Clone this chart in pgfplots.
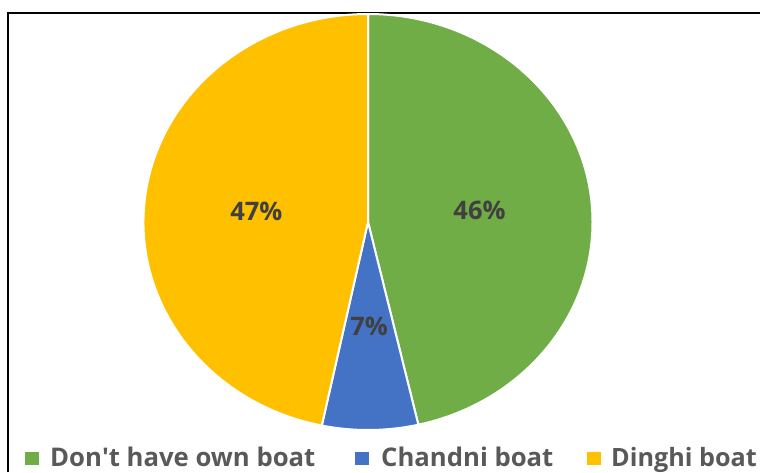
\documentclass[border=0pt]{standalone}
\usepackage{fontspec}
\setmainfont{Open Sans}
\usepackage{pgfplots}
\pgfplotsset{compat=1.18}
\definecolor{pgreen}{HTML}{70AD47}
\definecolor{pblue}{HTML}{4472C4}
\definecolor{pyellow}{HTML}{FFC000}
\definecolor{lblgray}{HTML}{404040}
\definecolor{leggray}{HTML}{595959}
% slice values (percent)
\def\vA{46.4}% Don't have own boat
\def\vB{6.9}%  Chandni boat
\def\vC{46.7}% Dinghi boat
\pgfmathsetmacro{\aS}{90}
\pgfmathsetmacro{\aA}{90-3.6*\vA}
\pgfmathsetmacro{\aB}{\aA-3.6*\vB}
\pgfmathsetmacro{\aC}{\aB-3.6*\vC}
\pgfmathsetmacro{\mA}{(\aS+\aA)/2}
\pgfmathsetmacro{\mB}{(\aA+\aB)/2}
\pgfmathsetmacro{\mC}{(\aB+\aC)/2}
\begin{document}
\begin{tikzpicture}
\begin{axis}[
  scale only axis, width=760pt, height=472pt,
  xmin=0, xmax=760, ymin=0, ymax=472,
  hide axis, clip=false,
  /pgf/number format/assume math mode=true,
]
\addplot[draw=none] coordinates {(0,0) (760,472)};
% frame
\draw[black, line width=1.4pt] (axis cs:8,0) -- (axis cs:8,459) -- (axis cs:770,459);
% slices
\filldraw[fill=pgreen, draw=white, line width=2pt, line join=round]
  (axis cs:368,250) -- ++(\aS:224.5pt and 208pt) arc[start angle=\aS, end angle=\aA, x radius=224.5pt, y radius=208pt] -- cycle;
\filldraw[fill=pblue, draw=white, line width=2pt, line join=round]
  (axis cs:368,250) -- ++(\aA:224.5pt and 208pt) arc[start angle=\aA, end angle=\aB, x radius=224.5pt, y radius=208pt] -- cycle;
\filldraw[fill=pyellow, draw=white, line width=2pt, line join=round]
  (axis cs:368,250) -- ++(\aB:224.5pt and 208pt) arc[start angle=\aB, end angle=\aC, x radius=224.5pt, y radius=208pt] -- cycle;
% data labels
\path (axis cs:368,250) -- ++(\mA:112.25pt and 104pt) node[text=lblgray, font=\fontsize{25.5}{28}\selectfont\bfseries] {\pgfmathprintnumber[fixed,precision=0,assume math mode=true]{\vA}\%};
\path (axis cs:368,250) -- ++(\mB:112.25pt and 104pt) node[text=lblgray, font=\fontsize{25.5}{28}\selectfont\bfseries] {\pgfmathprintnumber[fixed,precision=0,assume math mode=true]{\vB}\%};
\path (axis cs:368,250) -- ++(\mC:112.25pt and 104pt) node[text=lblgray, font=\fontsize{25.5}{28}\selectfont\bfseries] {\pgfmathprintnumber[fixed,precision=0,assume math mode=true]{\vC}\%};
% legend
\fill[pgreen] (axis cs:25,7) rectangle (axis cs:39,20);
\node[anchor=base west, inner sep=0pt, text=leggray, font=\fontsize{25.7}{29}\selectfont\bfseries] at (axis cs:50,6) {Don\textquotesingle t have own boat};
\fill[pblue] (axis cs:355,7) rectangle (axis cs:369,20);
\node[anchor=base west, inner sep=0pt, text=leggray, font=\fontsize{25.7}{29}\selectfont\bfseries] at (axis cs:381,6) {Chandni boat};
\fill[pyellow] (axis cs:587,7) rectangle (axis cs:601,20);
\node[anchor=base west, inner sep=0pt, text=leggray, font=\fontsize{25.2}{29}\selectfont\bfseries] at (axis cs:611,6) {Dinghi boat};
\end{axis}
\pgfresetboundingbox
\path[use as bounding box] (0,0) rectangle (760pt,472pt);
\end{tikzpicture}
\end{document}
